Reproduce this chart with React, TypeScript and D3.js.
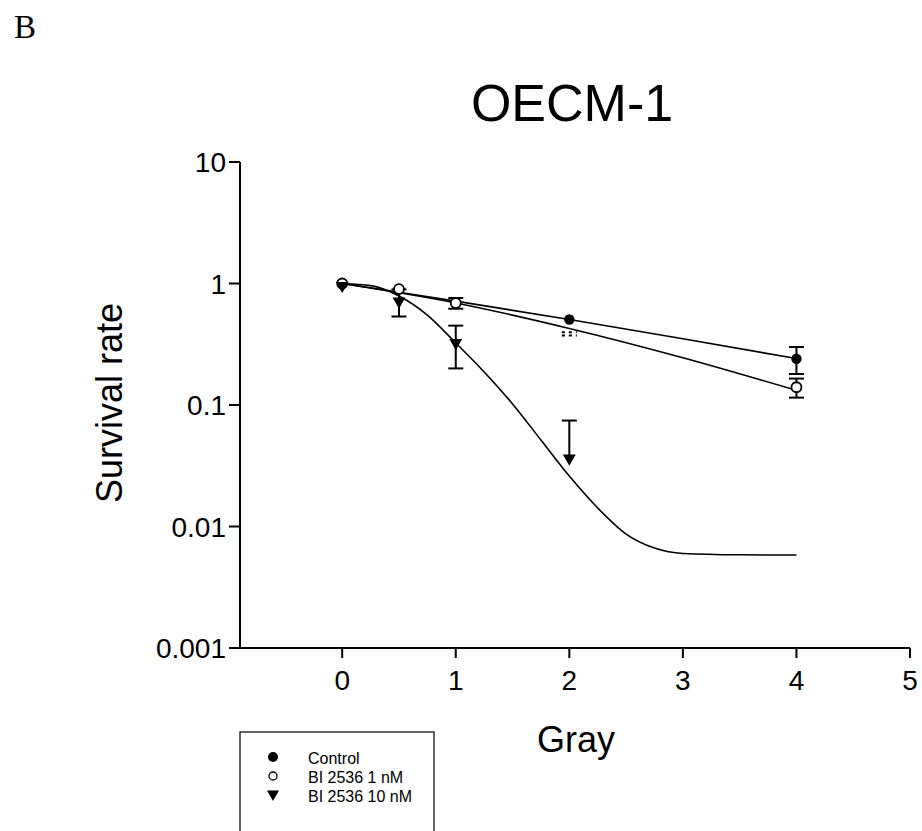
import React from "react";
import * as d3 from "d3";

// Radiation doses (Gy) and clonogenic survival fractions, OECM-1 cells
const doses = [0, 0.5, 1, 2, 4];
const controlMean = [1.0, 0.9, 0.69, 0.505, 0.24];
const controlSd = [0, 0, 0, 0, 0.06];
const bi1Mean = [1.0, 0.9, 0.69, 0.385, 0.14];
const bi1Sd = [0, 0, 0.07, 0.012, 0.025];
const bi1MarkerShown = [true, true, true, false, true];
const bi10Doses = [0, 0.5, 1, 2];
const bi10Mean = [0.96, 0.715, 0.325, 0.0365];
const bi10Sd = [0, 0.18, 0.125, 0.038];

// Fitted survival curves
const controlFitX = [0, 1, 2, 3, 4];
const controlFitY = [1.0, 0.716, 0.505, 0.351, 0.241];
const bi1FitX = [0, 1, 2, 3, 4];
const bi1FitY = [1.0, 0.692, 0.427, 0.245, 0.132];
const bi10FitX = [0, 0.25, 0.5, 0.75, 1.0, 1.25, 1.5, 1.75, 2.0, 2.25, 2.5, 2.75, 3.0, 3.5, 4.0];
const bi10FitY = [1.0, 0.96, 0.79, 0.55, 0.324, 0.187, 0.102, 0.0515, 0.026, 0.0142, 0.00867, 0.00665, 0.006, 0.00585, 0.00582];

const xTicks = [0, 1, 2, 3, 4, 5];
const yTicks = [0.001, 0.01, 0.1, 1, 10];
const yTickLabels = ["0.001", "0.01", "0.1", "1", "10"];
const legendLabels = ["Control", "BI 2536 1 nM", "BI 2536 10 nM"];

const W = 922;
const H = 831;
const FONT = "Liberation Sans, Arial, sans-serif";

export default function App() {
  const x = d3.scaleLinear().domain([-0.9, 5]).range([240, 910]);
  const y = d3.scaleLog().domain([0.001, 10]).range([648, 162]);

  const line = d3
    .line<[number, number]>()
    .x((d) => x(d[0]))
    .y((d) => y(d[1]));
  const smooth = d3
    .line<[number, number]>()
    .x((d) => x(d[0]))
    .y((d) => y(d[1]))
    .curve(d3.curveMonotoneX);

  const zip = (a: number[], b: number[]) => a.map((v, i) => [v, b[i]] as [number, number]);

  const tri = d3.symbol().type(d3.symbolTriangle).size(72)() as string;
  const triSmall = d3.symbol().type(d3.symbolTriangle).size(62)() as string;

  const capW = 7.5;

  const errorBar = (
    xs: number[],
    means: number[],
    sds: number[],
    key: string,
    dashed?: boolean[]
  ) =>
    xs.map((d, i) => {
      const sd = sds[i];
      if (!sd) return null;
      const cx = x(d);
      const top = y(means[i] + sd);
      const lowVal = means[i] - sd;
      const hasLow = lowVal > 0.001;
      const bottom = hasLow ? y(lowVal) : y(means[i]);
      const dash = dashed && dashed[i] ? "3 4" : undefined;
      return (
        <g key={`${key}-${i}`} stroke="#000" strokeWidth={2} strokeDasharray={dash}>
          {!dash && <line x1={cx} x2={cx} y1={top} y2={bottom} />}
          <line x1={cx - capW} x2={cx + capW} y1={top} y2={top} />
          {hasLow && <line x1={cx - capW} x2={cx + capW} y1={bottom} y2={bottom} />}
        </g>
      );
    });

  return (
    <svg
      width={W}
      height={H}
      style={{ position: "absolute", left: 0, top: 0, background: "#fff" }}
      fontFamily={FONT}
    >
      <rect x={0} y={0} width={W} height={H} fill="#fff" />
      <text x={14} y={38} fontFamily="Liberation Serif, Times New Roman, serif" fontSize={33}>
        B
      </text>
      <text x={572} y={121} textAnchor="middle" fontSize={52}>
        OECM-1
      </text>

      {/* axes */}
      <g stroke="#000" strokeWidth={2} fill="none">
        <line x1={240} x2={240} y1={y(10)} y2={y(0.001)} />
        <line x1={229} x2={x(5)} y1={y(0.001)} y2={y(0.001)} />
        {yTicks.map((t) => (
          <line key={`yt${t}`} x1={229} x2={240} y1={y(t)} y2={y(t)} />
        ))}
        {xTicks.map((t) => (
          <line key={`xt${t}`} x1={x(t)} x2={x(t)} y1={y(0.001)} y2={y(0.001) + 10} />
        ))}
      </g>
      {yTicks.map((t, i) => (
        <text key={`yl${t}`} x={226} y={y(t) + 10} textAnchor="end" fontSize={28}>
          {yTickLabels[i]}
        </text>
      ))}
      {xTicks.map((t) => (
        <text key={`xl${t}`} x={x(t)} y={y(0.001) + 24 + 18} textAnchor="middle" fontSize={28}>
          {t}
        </text>
      ))}
      <text x={576} y={752} textAnchor="middle" fontSize={36}>
        Gray
      </text>
      <text
        transform={`translate(122,403) rotate(-90)`}
        textAnchor="middle"
        fontSize={36}
      >
        Survival rate
      </text>

      {/* error bars */}
      {errorBar(doses, controlMean, controlSd, "c")}
      {errorBar(doses, bi1Mean, bi1Sd, "o", bi1MarkerShown.map((s) => !s))}
      {errorBar(bi10Doses, bi10Mean, bi10Sd, "t")}

      {/* fitted curves */}
      <g fill="none" stroke="#000" strokeWidth={1.6}>
        <path d={line(zip(controlFitX, controlFitY)) || ""} />
        <path d={smooth(zip(bi1FitX, bi1FitY)) || ""} />
        <path d={smooth(zip(bi10FitX, bi10FitY)) || ""} />
      </g>

      {/* markers: control, then 1 nM, then 10 nM on top */}
      {doses.map((d, i) => (
        <circle key={`cm${i}`} cx={x(d)} cy={y(controlMean[i])} r={5.2} fill="#000" />
      ))}
      {doses.map((d, i) =>
        bi1MarkerShown[i] ? (
          <circle
            key={`om${i}`}
            cx={x(d)}
            cy={y(bi1Mean[i])}
            r={5}
            fill="#fff"
            stroke="#000"
            strokeWidth={1.8}
          />
        ) : null
      )}
      {bi10Doses.map((d, i) => (
        <path
          key={`tm${i}`}
          d={tri}
          transform={`translate(${x(d)},${y(bi10Mean[i])}) rotate(180)`}
          fill="#000"
        />
      ))}

      {/* legend */}
      <rect x={240} y={732} width={194} height={120} fill="#fff" stroke="#000" strokeWidth={1.2} />
      <circle cx={273} cy={757} r={5} fill="#000" />
      <circle cx={273} cy={776} r={4} fill="#fff" stroke="#000" strokeWidth={1.3} />
      <path d={triSmall} transform="translate(273,794) rotate(180)" fill="#000" />
      {legendLabels.map((l, i) => (
        <text key={l} x={308} y={764 + i * 19} fontSize={16}>
          {l}
        </text>
      ))}
    </svg>
  );
}
